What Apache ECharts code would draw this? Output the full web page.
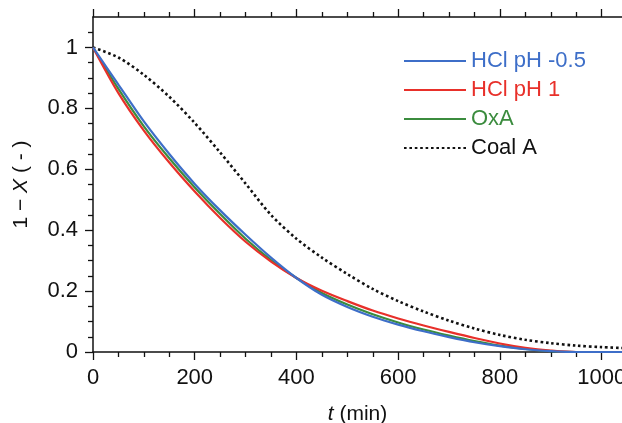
<!DOCTYPE html>
<html>
<head>
<meta charset="utf-8">
<script src="https://cdn.jsdelivr.net/npm/echarts@6/dist/echarts.min.js"></script>
<style>
html,body{margin:0;padding:0;background:#fff;}
#c{width:622px;height:423px;}
</style>
</head>
<body>
<div id="c"></div>
<script>
// time (min)
var tValues = [0, 50, 100, 150, 200, 250, 300, 350, 400, 450, 500, 550, 600, 650, 700, 750, 800, 850, 900, 950, 1000, 1040];
// 1 - X
var hclM05 = [1, 0.878, 0.757, 0.65, 0.552, 0.465, 0.385, 0.31, 0.243, 0.188, 0.148, 0.116, 0.09, 0.068, 0.049, 0.032, 0.019, 0.009, 0.003, 0.0, 0.0, 0.0];
var hcl1   = [1, 0.85, 0.727, 0.622, 0.527, 0.44, 0.362, 0.297, 0.243, 0.201, 0.167, 0.136, 0.11, 0.087, 0.066, 0.046, 0.028, 0.014, 0.005, 0.0, 0.0, 0.0];
var oxa    = [1, 0.864, 0.741, 0.636, 0.54, 0.453, 0.372, 0.302, 0.243, 0.194, 0.156, 0.124, 0.097, 0.074, 0.054, 0.036, 0.021, 0.01, 0.003, 0.0, 0.0, 0.0];
var coalA  = [1, 0.967, 0.91, 0.838, 0.752, 0.655, 0.553, 0.45, 0.372, 0.31, 0.256, 0.207, 0.167, 0.133, 0.103, 0.077, 0.056, 0.04, 0.029, 0.021, 0.016, 0.013];

var seriesNames = ['HCl pH -0.5', 'HCl pH 1', 'OxA', 'Coal A'];
var xMajorTicks = [0, 200, 400, 600, 800, 1000];
var xMinorTicks = [50, 100, 150, 250, 300, 350, 450, 500, 550, 650, 700, 750, 850, 900, 950];
var yMajorTicks = [0, 0.2, 0.4, 0.6, 0.8, 1];
var yMinorTicks = [0.05, 0.1, 0.15, 0.25, 0.3, 0.35, 0.45, 0.5, 0.55, 0.65, 0.7, 0.75, 0.85, 0.9, 0.95, 1.05];

var colors = { blue: '#3d6ec8', red: '#e8302a', green: '#3b8c3e', black: '#111111' };
function pairs(ys) { return tValues.map(function (t, i) { return [t, ys[i]]; }); }

var FONT = '"Liberation Sans", Arial, sans-serif';
var chart = echarts.init(document.getElementById('c'), null, { renderer: 'canvas' });
var lineBase = { type: 'line', showSymbol: false, symbol: 'none', smooth: 0.3, xAxisIndex: 0, yAxisIndex: 0, animation: false };
var axisLine = { show: true, lineStyle: { color: '#111', width: 1.5 } };

function xAx(pos, major, show) {
  return {
    type: 'value', position: pos, min: 0, max: 1040,
    axisLine: major ? axisLine : { show: false },
    axisTick: { show: true, inside: false, length: major ? 8 : 5, customValues: major ? xMajorTicks : xMinorTicks, lineStyle: { color: '#111', width: 1.3 } },
    axisLabel: { show: show, customValues: xMajorTicks, margin: 15, fontFamily: FONT, fontSize: 22, color: '#111', formatter: function (v) { return String(v); } },
    splitLine: { show: false }
  };
}
function yAx(major) {
  return {
    type: 'value', position: 'left', min: 0, max: 1.1,
    axisLine: major ? axisLine : { show: false },
    axisTick: { show: true, inside: false, length: major ? 8 : 5, customValues: major ? yMajorTicks : yMinorTicks, lineStyle: { color: '#111', width: 1.3 } },
    axisLabel: { show: major, customValues: yMajorTicks, margin: 15, fontFamily: FONT, fontSize: 22, color: '#111', formatter: function (v) { return String(v); } },
    splitLine: { show: false }
  };
}

var xMain = xAx('bottom', true, true);
xMain.name = '{i|t} (min)';
xMain.nameLocation = 'middle';
xMain.nameGap = 52;
xMain.nameTextStyle = { fontFamily: FONT, fontSize: 21, color: '#111', rich: { i: { fontStyle: 'italic', fontFamily: FONT, fontSize: 21, color: '#111' } } };

var yMain = yAx(true);
yMain.name = '1 \u2212 {i|X} ( - )';
yMain.nameLocation = 'middle';
yMain.nameRotate = 90;
yMain.nameGap = 61;
yMain.nameTextStyle = { fontFamily: FONT, fontSize: 21, color: '#111', rich: { i: { fontStyle: 'italic', fontFamily: FONT, fontSize: 21, color: '#111' } } };

var option = {
  backgroundColor: '#ffffff',
  animation: false,
  grid: { left: 93, right: 0, top: 17, bottom: 71, containLabel: false, outerBoundsMode: 'none' },
  legend: {
    orient: 'vertical', left: 398, top: 45,
    itemWidth: 62, itemHeight: 14, itemGap: 7,
    itemStyle: { opacity: 0, borderWidth: 0 },
    textStyle: { fontFamily: FONT, fontSize: 22, lineHeight: 22 },
    data: [
      { name: seriesNames[0], textStyle: { color: colors.blue } },
      { name: seriesNames[1], textStyle: { color: colors.red } },
      { name: seriesNames[2], textStyle: { color: colors.green } },
      { name: seriesNames[3], textStyle: { color: colors.black } }
    ]
  },
  xAxis: [xMain, xAx('bottom', false, false), xAx('top', true, false), xAx('top', false, false)],
  yAxis: [yMain, yAx(false)],
  series: [
    Object.assign({}, lineBase, { name: seriesNames[3], data: pairs(coalA), z: 2, lineStyle: { color: colors.black, width: 2.6, type: [2.6, 2.8] }, itemStyle: { color: colors.black } }),
    Object.assign({}, lineBase, { name: seriesNames[2], data: pairs(oxa), z: 3, lineStyle: { color: colors.green, width: 2.2 }, itemStyle: { color: colors.green } }),
    Object.assign({}, lineBase, { name: seriesNames[1], data: pairs(hcl1), z: 3, lineStyle: { color: colors.red, width: 2.2 }, itemStyle: { color: colors.red } }),
    Object.assign({}, lineBase, { name: seriesNames[0], data: pairs(hclM05), z: 4, lineStyle: { color: colors.blue, width: 2.2 }, itemStyle: { color: colors.blue } })
  ]
};
chart.setOption(option);
</script>
</body>
</html>
